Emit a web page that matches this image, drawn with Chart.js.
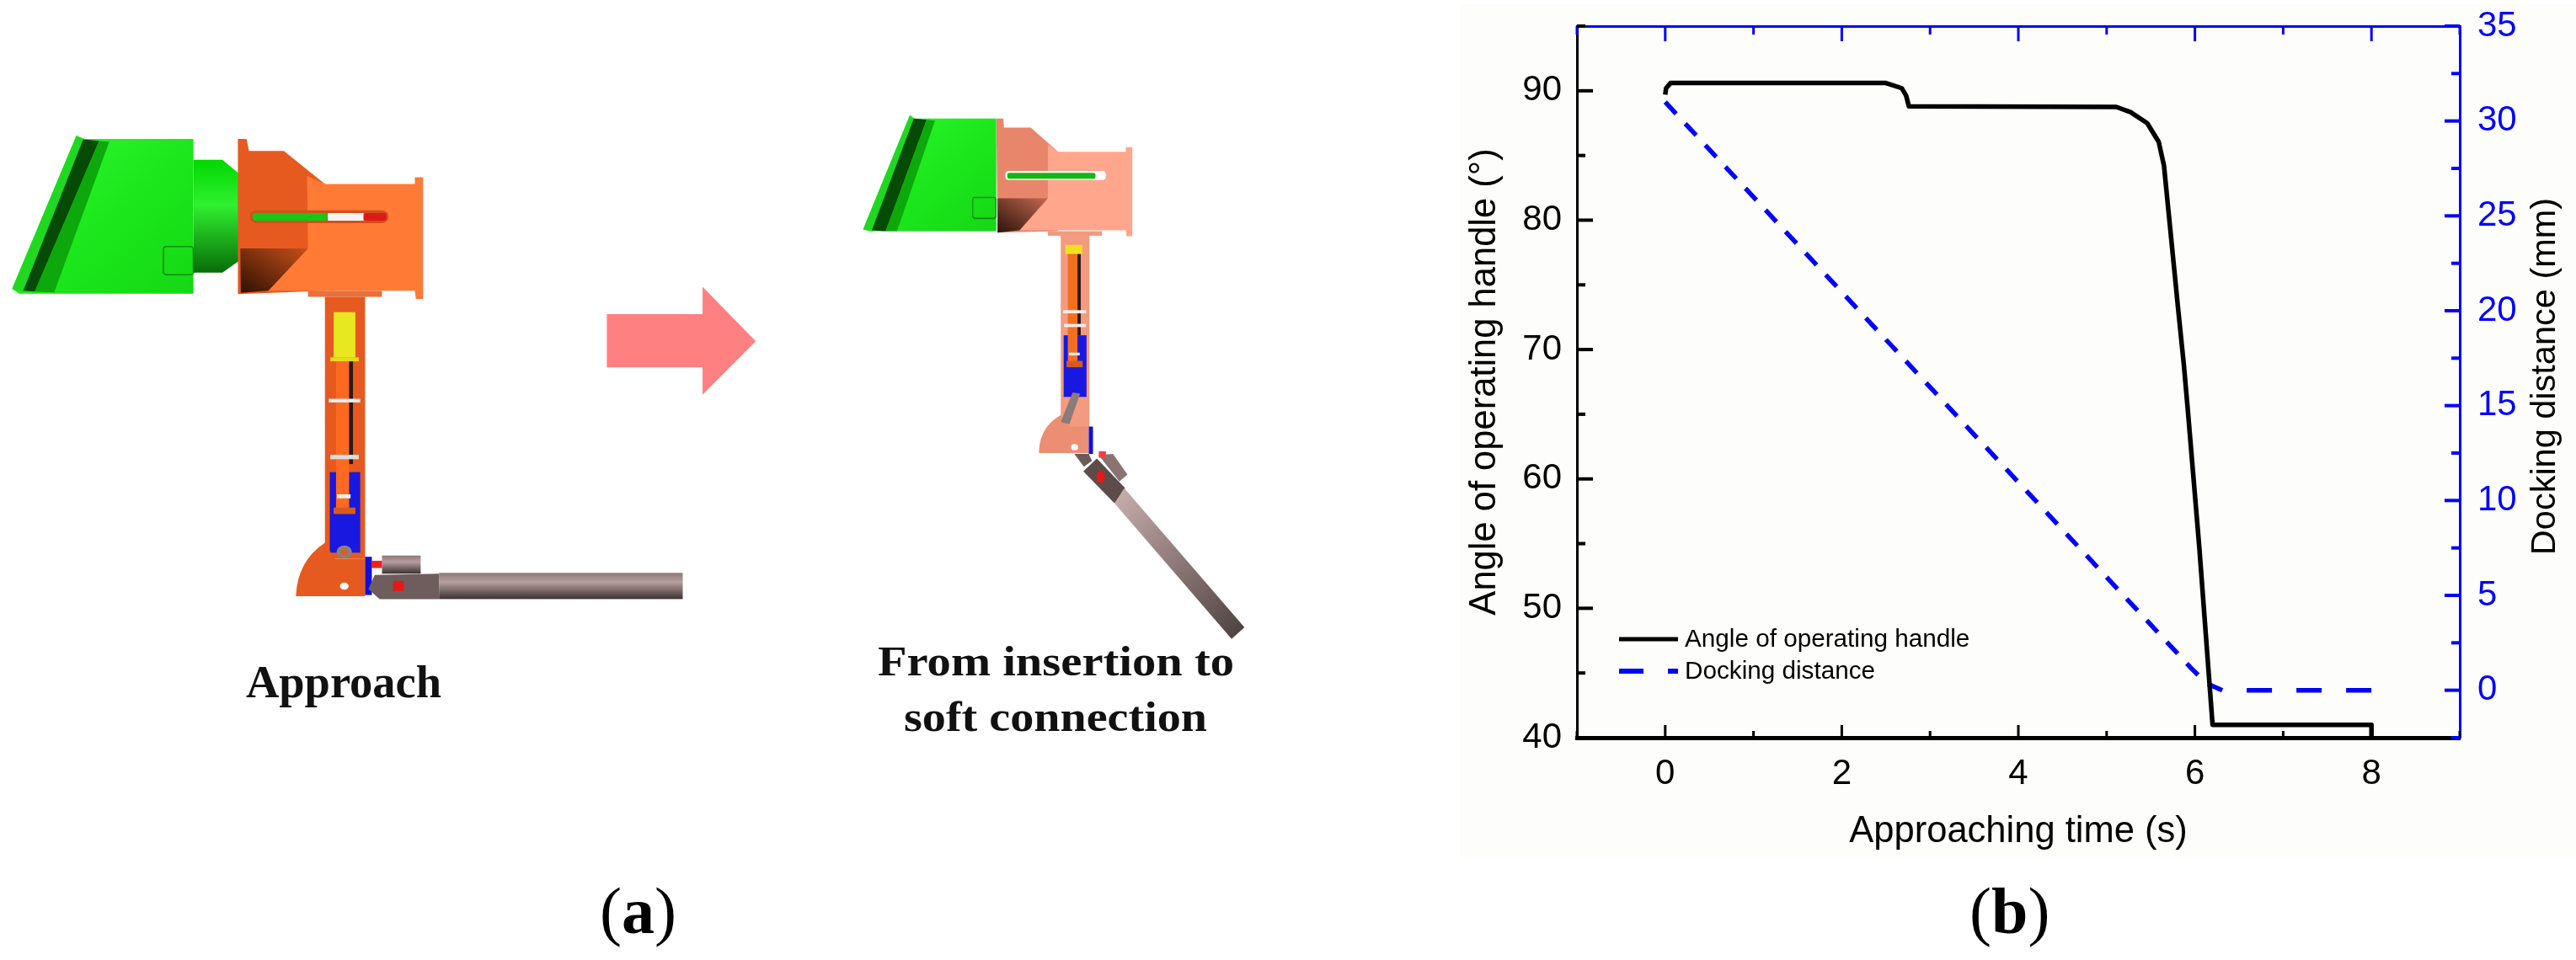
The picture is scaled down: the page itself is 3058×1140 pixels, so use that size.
<!DOCTYPE html>
<html>
<head>
<meta charset="utf-8">
<title>Approach and docking</title>
<script src="https://cdn.jsdelivr.net/npm/chart.js@4/dist/chart.umd.min.js"></script>
<style>
  html, body { margin: 0; padding: 0; background: #fff; }
  #page { position: relative; width: 3058px; height: 1140px; overflow: hidden; }
  #page svg, #page canvas { position: absolute; left: 0; top: 0; }
  #plotBack { position: absolute; left: 1733px; top: 5px; width: 1325px; height: 1013px; background: #fdfdfc; }
</style>
</head>
<body>
<div id="page">
  <div id="plotBack"></div>
  <svg width="3058" height="1140" xmlns="http://www.w3.org/2000/svg">
    <defs>
      <linearGradient id="neck" x1="0" y1="0" x2="0" y2="1">
        <stop offset="0" stop-color="#00d800"/><stop offset=".4" stop-color="#30f030"/><stop offset="1" stop-color="#086c08"/>
      </linearGradient>
      <linearGradient id="greenBody" x1="0" y1="0" x2="1" y2="1">
        <stop offset="0" stop-color="#30fa30"/><stop offset=".5" stop-color="#1ce81c"/><stop offset="1" stop-color="#14d814"/>
      </linearGradient>
      <linearGradient id="steel" x1="0" y1="0" x2="0" y2="1">
        <stop offset="0" stop-color="#8d7676"/><stop offset=".35" stop-color="#b89f9f"/><stop offset="1" stop-color="#3d3131"/>
      </linearGradient>
      <linearGradient id="steelB" x1="0" y1="0" x2="1" y2="1">
        <stop offset="0" stop-color="#c9b0ae"/><stop offset="1" stop-color="#4c3f3f"/>
      </linearGradient>
      <linearGradient id="shade" x1="1" y1="0" x2="0" y2="1">
        <stop offset="0" stop-color="#c8501c"/><stop offset="1" stop-color="#301000"/>
      </linearGradient>
      <linearGradient id="shadeB" x1="1" y1="0" x2="0" y2="1">
        <stop offset="0" stop-color="#c46a50"/><stop offset="1" stop-color="#2c120a"/>
      </linearGradient>
    </defs>

    <!-- first mechanism, in crop coordinates -->
    <g transform="translate(0,130) scale(.574,.4785)">
      <polygon points="158,65 175,73 400,73 400,457 40,457 25,445" fill="url(#greenBody)"/>
      <polygon points="158,65 172,74 48,450 25,445" fill="#20d820"/>
      <polygon points="172,74 205,78 72,452 48,450" fill="#054a05"/>
      <polygon points="205,78 226,80 112,454 72,452" fill="#0ca80c"/>
      <rect x="338" y="340" width="62" height="70" rx="6" fill="none" stroke="#0a8a0a" stroke-width="3"/>
      <polygon points="400,125 460,125 495,160 495,375 460,405 400,405" fill="url(#neck)"/>
      <polygon points="492,73 510,73 515,103 587,103 672,185 672,450 492,458" fill="#e65a20"/>
      <polygon points="635,165 672,185 858,185 858,168 875,168 875,470 860,470 858,450 555,450 637,345" fill="#ff7a35"/>
      <polygon points="497,345 637,345 555,450 498,455" fill="url(#shade)"/>
      <rect x="517" y="250" width="286" height="32" rx="14" fill="#d0501c"/>
      <rect x="522" y="257" width="156" height="19" rx="8" fill="#16c816"/>
      <rect x="678" y="257" width="74" height="19" fill="#f4f4f4"/>
      <rect x="752" y="257" width="47" height="19" rx="6" fill="#e01818"/>
      <rect x="637" y="450" width="153" height="15" fill="#e8703a"/>
      <rect x="672" y="465" width="83" height="650" fill="#e65a20"/>
      <rect x="690" y="503" width="45" height="112" fill="#e8e820"/>
      <rect x="683" y="615" width="59" height="10" fill="#e8d820"/>
      <rect x="682" y="900" width="63" height="200" fill="#1818e0"/>
      <rect x="695" y="625" width="27" height="365" fill="#ff6a20"/>
      <rect x="722" y="625" width="8" height="255" fill="#2a1a10"/>
      <rect x="690" y="988" width="45" height="16" fill="#d85a20"/>
      <rect x="680" y="718" width="65" height="9" fill="#eee"/>
      <rect x="683" y="857" width="59" height="11" fill="#ddd"/>
      <rect x="697" y="955" width="28" height="10" fill="#eee"/>
      <circle cx="712" cy="1098" r="16" fill="#8a8080"/>
      <circle cx="712" cy="1098" r="8" fill="#d86020"/>
      <path d="M672,1075 Q615,1120 612,1208 L755,1208 L755,1115 L692,1115 Z" fill="#e65a20"/>
      <circle cx="712" cy="1183" r="9" fill="#fff"/>
      <rect x="755" y="1110" width="14" height="95" fill="#1010d8"/>
      <rect x="790" y="1107" width="80" height="45" fill="url(#steel)"/>
      <rect x="768" y="1120" width="22" height="18" fill="#f02020"/>
      <polygon points="775,1155 908,1152 908,1215 785,1215 762,1190" fill="#6f5c5c"/>
      <rect x="908" y="1150" width="504" height="65" fill="url(#steel)"/>
      <rect x="813" y="1170" width="22" height="25" fill="#e81818"/>
      <polygon points="1255,508 1453,508 1453,440 1563,575 1453,708 1453,640 1255,640" fill="#ff8080"/>
    </g>

    <!-- second mechanism, in crop coordinates -->
    <g transform="translate(950,100) scale(.3827,.5421)">
      <polygon points="340,68 355,75 608,75 608,322 215,322 195,318" fill="url(#greenBody)"/>
      <polygon points="340,68 352,75 222,320 195,318" fill="#20d820"/>
      <polygon points="352,75 392,78 265,322 222,320" fill="#054a05"/>
      <polygon points="392,78 418,80 300,322 265,322" fill="#0ca80c"/>
      <rect x="535" y="248" width="72" height="46" rx="6" fill="none" stroke="#0a8a0a" stroke-width="3"/>
      <polygon points="608,75 630,75 632,95 715,95 800,148 800,322 612,325" fill="#e8866c"/>
      <polygon points="768,132 800,148 1010,148 1010,138 1030,138 1030,333 1012,333 1010,320 680,320 768,250" fill="#ffa68c"/>
      <polygon points="612,250 768,250 680,320 612,325" fill="url(#shadeB)"/>
      <rect x="636" y="190" width="312" height="20" rx="9" fill="#fff"/>
      <rect x="642" y="194" width="274" height="13" rx="6" fill="#12b812"/>
      <rect x="768" y="322" width="168" height="10" fill="#f09a80"/>
      <rect x="808" y="332" width="89" height="420" fill="#f49a80"/>
      <rect x="822" y="352" width="53" height="20" fill="#f0e020"/>
      <rect x="817" y="550" width="71" height="135" fill="#1818e0"/>
      <rect x="830" y="372" width="30" height="238" fill="#f07020"/>
      <rect x="860" y="372" width="10" height="178" fill="#2a1a10"/>
      <rect x="826" y="606" width="50" height="14" fill="#d85a20"/>
      <rect x="815" y="495" width="72" height="7" fill="#eee"/>
      <rect x="818" y="525" width="68" height="7" fill="#eee"/>
      <rect x="833" y="588" width="34" height="6" fill="#eee"/>
      <path d="M808,725 Q742,750 740,808 L895,808 L895,750 L835,750 Z" fill="#ec8e74"/>
      <polygon points="845,675 868,678 835,745 808,740" fill="#8a7c78"/>
      <ellipse cx="851" cy="795" rx="11" ry="7" fill="#fff"/>
      <rect x="895" y="750" width="13" height="60" fill="#1010d8"/>
      <polygon points="850,810 895,810 905,825 880,838" fill="#6a5a58"/>
      <polygon points="925,812 970,810 1015,855 990,870" fill="#8a7472"/>
      <rect x="926" y="804" width="22" height="14" fill="#f04040"/>
      <polygon points="878,848 920,820 1008,885 975,918" fill="#5c4c4a"/>
      <polygon points="975,918 1005,885 1378,1190 1338,1215" fill="url(#steelB)"/>
      <circle cx="932" cy="860" r="13" fill="#e81818"/>
    </g>

    <g font-family="'Liberation Serif'" font-weight="bold" fill="#111">
      <text x="292" y="828" font-size="54" textLength="232" lengthAdjust="spacingAndGlyphs">Approach</text>
      <text x="1042" y="802" font-size="50" textLength="423" lengthAdjust="spacingAndGlyphs">From insertion to</text>
      <text x="1073" y="868" font-size="50" textLength="360" lengthAdjust="spacingAndGlyphs">soft connection</text>
    </g>
    <g font-family="'Liberation Serif'" font-size="78" fill="#000">
      <text x="712" y="1108">(<tspan font-weight="bold">a</tspan>)</text>
      <text x="2338" y="1108">(<tspan font-weight="bold">b</tspan>)</text>
    </g>
  </svg>
  <canvas id="lineChart" width="3058" height="1140"></canvas>
</div>

<script>
const ctx = document.getElementById('lineChart').getContext('2d');

const angleTime = [0, 0.01, 0.06, 2.5, 2.68, 2.73, 2.76, 5.11, 5.27, 5.46, 5.59, 5.65, 5.70, 5.75, 5.81, 5.875, 5.92, 6.05, 6.2, 8, 8];
const angleValues = [89.7, 90.2, 90.6, 90.6, 90.2, 89.6, 88.8, 88.75, 88.35, 87.5, 86.05, 84.2, 80.75, 77.3, 73.15, 68.8, 65.3, 54.7, 41, 41, 40];
const dockingTime = [0, 5.95, 6.13, 6.31, 8];
const dockingValues = [31, 1.2, 0.37, 0, 0];
const seriesNames = ['Angle of operating handle', 'Docking distance'];
const rightTitle = 'Docking distance (mm)';

const sansFont = "'Liberation Sans'";
const tickFont = { family: sansFont, size: 42 };
const titleFont = { family: sansFont, size: 43.5 };

function toPoints(xs, ys) {
  return xs.map((x, i) => ({ x: x, y: ys[i] }));
}

// tick label padding would otherwise push the plot edges in
function fixSide(width) {
  return s => {
    s.width = width;
    s.paddingTop = 0;
    s.paddingBottom = 0;
  };
}

// ticks point into the plot, so the library's own outward ones are switched off
const insideTicks = {
  id: 'insideTicks',
  afterDatasetsDraw(chart) {
    const c = chart.ctx;
    const a = chart.chartArea;
    const mark = (x1, y1, x2, y2, color, w) => {
      c.strokeStyle = color;
      c.lineWidth = w;
      c.beginPath();
      c.moveTo(x1, y1);
      c.lineTo(x2, y2);
      c.stroke();
    };
    c.save();
    chart.scales.x.ticks.forEach(t => {
      const len = t.value % 2 === 0 ? 15 : 8;
      const px = chart.scales.x.getPixelForValue(t.value);
      mark(px, a.bottom, px, a.bottom - len, '#000', 3);
    });
    chart.scales.xTop.ticks.forEach(t => {
      const len = t.value % 2 === 0 ? 18 : 10;
      const px = chart.scales.xTop.getPixelForValue(t.value);
      mark(px, a.top, px, a.top + len, '#0000ff', 3);
    });
    chart.scales.y.ticks.forEach(t => {
      const len = t.value % 10 === 0 ? 19 : 10;
      const py = chart.scales.y.getPixelForValue(t.value);
      mark(a.left, py, a.left + len, py, '#000', 4);
    });
    chart.scales.yRight.ticks.forEach(t => {
      const len = t.value % 5 === 0 ? 18 : 10;
      const py = chart.scales.yRight.getPixelForValue(t.value);
      mark(a.right, py, a.right - len, py, '#0000ff', 4);
    });
    c.restore();
  }
};

// legend sits inside the plot, bottom left, with no frame
const plotLegend = {
  id: 'plotLegend',
  afterDraw(chart) {
    const c = chart.ctx;
    c.save();
    c.font = '29.7px ' + sansFont;
    c.textBaseline = 'middle';
    c.fillStyle = '#000';
    c.lineWidth = 5;
    c.strokeStyle = '#000';
    c.beginPath();
    c.moveTo(1922, 759);
    c.lineTo(1992, 759);
    c.stroke();
    c.fillText(chart.data.datasets[0].label, 2000, 760);
    c.strokeStyle = '#0000ff';
    c.lineWidth = 6;
    c.setLineDash([29, 29, 12]);
    c.beginPath();
    c.moveTo(1922, 797);
    c.lineTo(1992, 797);
    c.stroke();
    c.setLineDash([]);
    c.fillText(chart.data.datasets[1].label, 2000, 798);

    // right axis title reads bottom to top, the library would turn it the other way
    c.translate(3022, 447);
    c.rotate(-Math.PI / 2);
    c.font = '41.5px ' + sansFont;
    c.textAlign = 'center';
    c.fillText(rightTitle, 0, 0);
    c.restore();
  }
};

let lineChart = new Chart(ctx, {
  type: 'line',
  data: {
    datasets: [{
      label: seriesNames[0],
      data: toPoints(angleTime, angleValues),
      yAxisID: 'y',
      borderColor: '#000',
      borderWidth: 5.5,
      borderJoinStyle: 'round',
      pointRadius: 0,
      tension: 0
    }, {
      label: seriesNames[1],
      data: toPoints(dockingTime, dockingValues),
      yAxisID: 'yRight',
      borderColor: '#0000ff',
      borderWidth: 5.5,
      borderDash: [19, 16],
      pointRadius: 0,
      tension: 0,
      segment: {
        borderDash: c => c.p0.parsed.y === 0 ? [30, 29] : undefined,
        borderDashOffset: c => c.p0.parsed.y === 0 ? 30 : undefined
      }
    }]
  },
  options: {
    responsive: false,
    animation: false,
    layout: { autoPadding: false, padding: { left: 1737, right: 8, top: 31, bottom: 126 } },
    plugins: {
      legend: { display: false },
      title: { display: false },
      tooltip: { enabled: false }
    },
    scales: {
      x: {
        type: 'linear',
        position: 'bottom',
        min: -1,
        max: 9,
        afterFit: s => { s.height = 138; s.paddingLeft = 0; s.paddingRight = 0; },
        grid: { display: false, drawTicks: false },
        border: { color: '#000', width: 5 },
        ticks: {
          stepSize: 1,
          autoSkip: false,
          maxRotation: 0,
          padding: 18,
          color: '#000',
          font: tickFont,
          callback: v => v % 2 === 0 ? String(v) : ''
        },
        title: { display: true, text: 'Approaching time (s)', color: '#000', font: titleFont, padding: 0 }
      },
      xTop: {
        type: 'linear',
        position: 'top',
        min: -1,
        max: 9,
        afterFit: s => { s.height = 0; },
        grid: { display: false, drawTicks: false },
        border: { color: '#0000ff', width: 3 },
        ticks: { display: false, stepSize: 1 }
      },
      y: {
        position: 'left',
        min: 40,
        max: 95,
        afterFit: fixSide(135),
        grid: { display: false, drawTicks: false },
        border: { color: '#000', width: 3 },
        ticks: {
          stepSize: 5,
          autoSkip: false,
          padding: 18,
          color: '#000',
          font: tickFont,
          callback: v => v % 10 === 0 ? String(v) : ''
        },
        title: { display: true, text: 'Angle of operating handle (°)', color: '#000', font: titleFont, padding: 0 }
      },
      yRight: {
        position: 'right',
        min: -2.5,
        max: 35,
        afterFit: fixSide(130),
        grid: { display: false, drawTicks: false },
        border: { color: '#0000ff', width: 3 },
        ticks: {
          stepSize: 2.5,
          autoSkip: false,
          padding: 21,
          color: '#0000ff',
          font: tickFont,
          callback: v => v % 5 === 0 ? String(v) : ''
        }
      }
    }
  },
  plugins: [insideTicks, plotLegend]
});
</script>
</body>
</html>
